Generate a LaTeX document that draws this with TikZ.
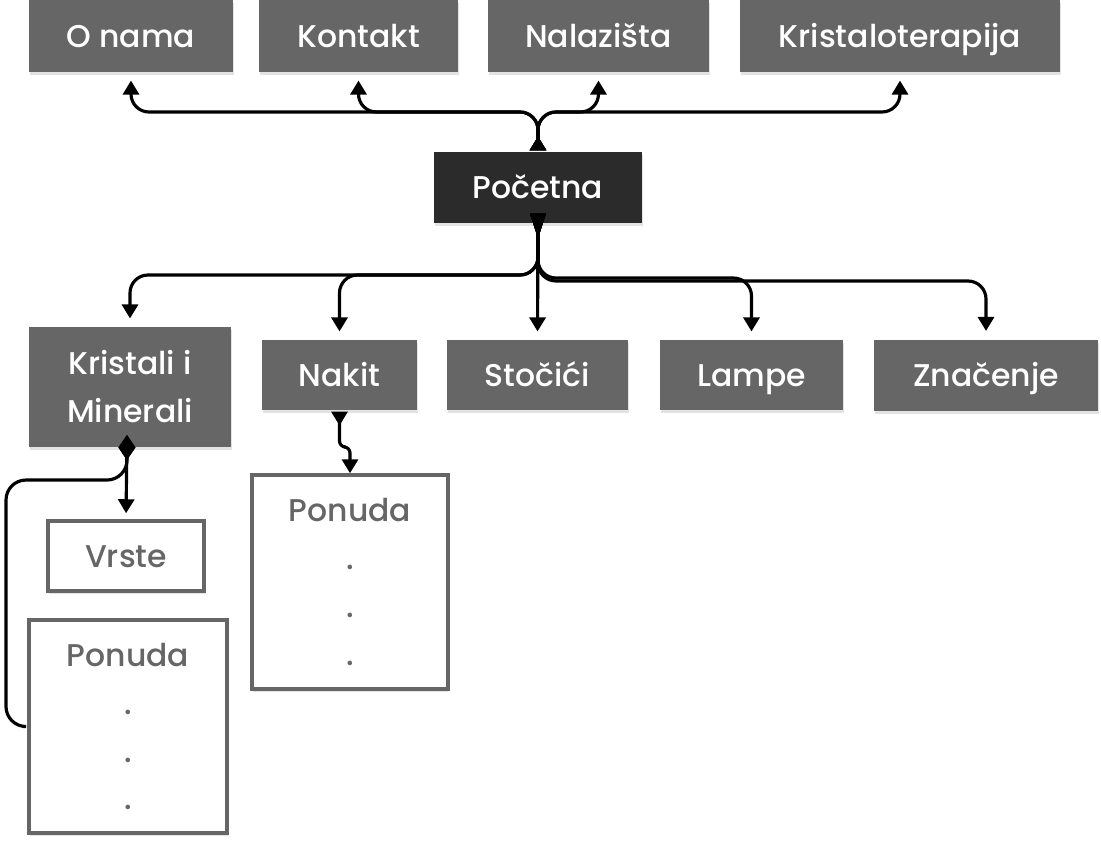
\documentclass[tikz,border=0pt]{standalone}
\usepackage{fontspec}
\setmainfont{Poppins}[UprightFont={* Medium}]
\usetikzlibrary{arrows.meta, shadows, calc}
\definecolor{cbox}{HTML}{666666}
\definecolor{cdark}{HTML}{2B2B2B}
\tikzset{
  every picture/.style={line width=1.8pt},
  box/.style={fill=#1, text=white, align=center, inner sep=0pt, font=\fontsize{17.9}{27.3}\selectfont,
    drop shadow={shadow xshift=0.6pt, shadow yshift=-1.8pt, opacity=0.22}},
  box/.default=cbox,
  oneline/.style={text height=12.8pt, text depth=0pt},
  page/.style={draw=cbox, line width=2pt, fill=white, text=cbox, align=center, inner sep=0pt, font=\fontsize{17.9}{27.3}\selectfont,
    drop shadow={shadow xshift=0.6pt, shadow yshift=-1.8pt, opacity=0.22}},
  link/.style={draw=black, rounded corners=0.36cm, shorten >=0.14cm},
  uptail/.style={arrows={{Triangle[reversed, length=0.28cm, width=0.32cm]}-{Triangle[length=0.28cm, width=0.32cm]}}},
  downtail/.style={arrows={{Triangle[reversed, length=0.5cm, width=0.3cm]}-{Triangle[length=0.28cm, width=0.32cm]}}},
  forktail/.style={arrows={{Diamond[length=0.5cm, width=0.34cm]}-#1}},
  forktail/.default={{Triangle[length=0.28cm, width=0.32cm]}},
}

\begin{document}
\begin{tikzpicture}[x=0.02cm, y=-0.02cm]
  \useasboundingbox (0,0) rectangle (1101,843);
  % top menu
  \node[box, oneline, minimum width=4.08cm, minimum height=1.44cm] (onama) at (131,36) {O nama};
  \node[box, oneline, minimum width=3.98cm, minimum height=1.44cm] (kontakt) at (358.5,36) {Kontakt};
  \node[box, oneline, minimum width=4.42cm, minimum height=1.44cm] (nalazista) at (598.5,36) {Nalazišta};
  \node[box, oneline, minimum width=6.40cm, minimum height=1.44cm] (kristaloterapija) at (900,36) {Kristaloterapija};
  % home page
  \node[box=cdark, oneline, minimum width=4.16cm, minimum height=1.42cm] (pocetna) at (538,187.5) {Početna};
  % second level
  \node[box, minimum width=4.04cm, minimum height=2.40cm] (kmin) at (130,387) {Kristali i\\Minerali};
  \node[box, oneline, minimum width=3.10cm, minimum height=1.40cm] (nakit) at (339.5,375) {Nakit};
  \node[box, oneline, minimum width=3.62cm, minimum height=1.40cm] (stocici) at (537.5,375) {Stočići};
  \node[box, oneline, minimum width=3.66cm, minimum height=1.40cm] (lampe) at (751.5,375) {Lampe};
  \node[box, oneline, minimum width=4.48cm, minimum height=1.42cm] (znacenje) at (986,375) {Značenje};
  % sub pages
  \node[page, oneline, minimum width=3.12cm, minimum height=1.40cm] (vrste) at (126,556) {Vrste};
  \node[page, minimum width=3.96cm, minimum height=4.26cm] (ponudakm) at (128,726.5) {Ponuda\\.\\.\\.};
  \node[page, minimum width=3.92cm, minimum height=4.28cm] (ponudanakit) at (350,582) {Ponuda\\.\\.\\.};

  % links up
  \coordinate (topbus) at (538,112);
  \foreach \t in {onama, kontakt, nalazista, kristaloterapija}
    \draw[link, uptail] (pocetna.north) -- (topbus) -| (\t.south);
  % links down
  \foreach \t/\y in {kmin/275, nakit/275, lampe/278, znacenje/281}
    \draw[link, downtail] ($(pocetna.south)+(0,-11)$) -- (538,\y) -| (\t.north);
  \draw[link, downtail] ($(pocetna.south)+(0,-11)$) -- (stocici.north);
  % Kristali i Minerali
  \coordinate (kmfork) at (127,435);
  \draw[link, forktail, shorten >=0.12cm] (kmfork) -- (vrste.north);
  \draw[link, forktail={}, rounded corners=0.4cm, shorten >=0.08cm] (kmfork) |- (6,480) |- (ponudakm.west);
  % Nakit
  \draw[link, uptail, rounded corners=0.12cm, shorten >=0pt] (nakit.south) -- (339.5,447) -| (ponudanakit.north);
\end{tikzpicture}
\end{document}
